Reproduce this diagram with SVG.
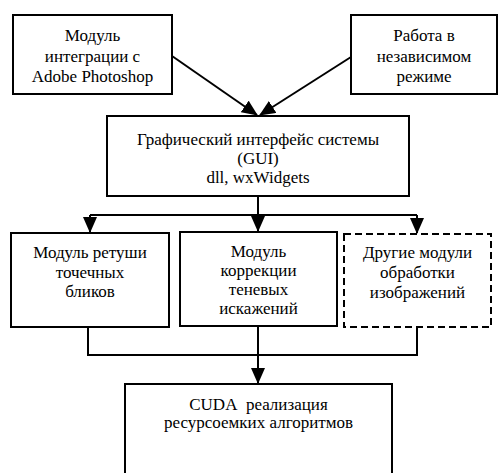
<svg xmlns="http://www.w3.org/2000/svg" width="499" height="473" viewBox="0 0 499 473">
<style>
.box{fill:#fff;stroke:#000;stroke-width:2}
.dash{fill:#fff;stroke:#000;stroke-width:2;stroke-dasharray:7,4}
.t{font-family:'Liberation Serif','Times New Roman',serif;font-size:17px;fill:#000;text-anchor:middle}
.c{fill:none;stroke:#000;stroke-width:2}
</style>
<defs>
<marker id="ah" viewBox="0 0 16 14" refX="15" refY="7" markerWidth="16" markerHeight="14" orient="auto" markerUnits="userSpaceOnUse">
<path d="M0,0 L16,7 L0,14 z" fill="#000"/>
</marker>
</defs>
<rect width="499" height="473" fill="#fff"/>
<g id="connectors">
<path class="c" d="M172,56 L257,115" marker-end="url(#ah)"/>
<path class="c" d="M351,57 L260,115" marker-end="url(#ah)"/>
<path class="c" d="M258,196 V215"/>
<path class="c" d="M90,215 H417"/>
<path class="c" d="M90,215 V232" marker-end="url(#ah)"/>
<path class="c" d="M258,215 V231" marker-end="url(#ah)"/>
<path class="c" d="M417,215 V233" marker-end="url(#ah)"/>
<path class="c" d="M88,327 V355 H417 V327"/>
<path class="c" d="M258,326 V383" marker-end="url(#ah)"/>
</g>
<g id="photoshop">
<rect class="box" x="13" y="15" width="159" height="79"/>
<text class="t" x="92.5" y="41">Модуль</text>
<text class="t" x="92.5" y="61.5">интеграции с</text>
<text class="t" x="92.5" y="82">Adobe Photoshop</text>
</g>
<g id="standalone">
<rect class="box" x="351" y="15" width="146" height="79"/>
<text class="t" x="424" y="41">Работа в</text>
<text class="t" x="424" y="61.5">независимом</text>
<text class="t" x="424" y="82">режиме</text>
</g>
<g id="gui">
<rect class="box" x="107" y="116" width="302" height="80"/>
<text class="t" x="258" y="145">Графический интерфейс системы</text>
<text class="t" x="258" y="164">(GUI)</text>
<text class="t" x="258" y="183">dll, wxWidgets</text>
</g>
<g id="retouch">
<rect class="box" x="11" y="233" width="158" height="94"/>
<text class="t" x="90" y="258">Модуль ретуши</text>
<text class="t" x="90" y="277.5">точечных</text>
<text class="t" x="90" y="297">бликов</text>
</g>
<g id="shadow">
<rect class="box" x="180" y="232" width="157" height="94"/>
<text class="t" x="258.5" y="257">Модуль</text>
<text class="t" x="258.5" y="276">коррекции</text>
<text class="t" x="258.5" y="295">теневых</text>
<text class="t" x="258.5" y="314">искажений</text>
</g>
<g id="other">
<rect class="dash" x="344" y="234" width="147" height="93"/>
<text class="t" x="417.5" y="258">Другие модули</text>
<text class="t" x="417.5" y="278">обработки</text>
<text class="t" x="417.5" y="298">изображений</text>
</g>
<g id="cuda">
<rect class="box" x="125" y="384" width="267" height="100"/>
<text class="t" x="258.5" y="410">CUDA&#160; реализация</text>
<text class="t" x="258.5" y="428">ресурсоемких алгоритмов</text>
</g>
</svg>
